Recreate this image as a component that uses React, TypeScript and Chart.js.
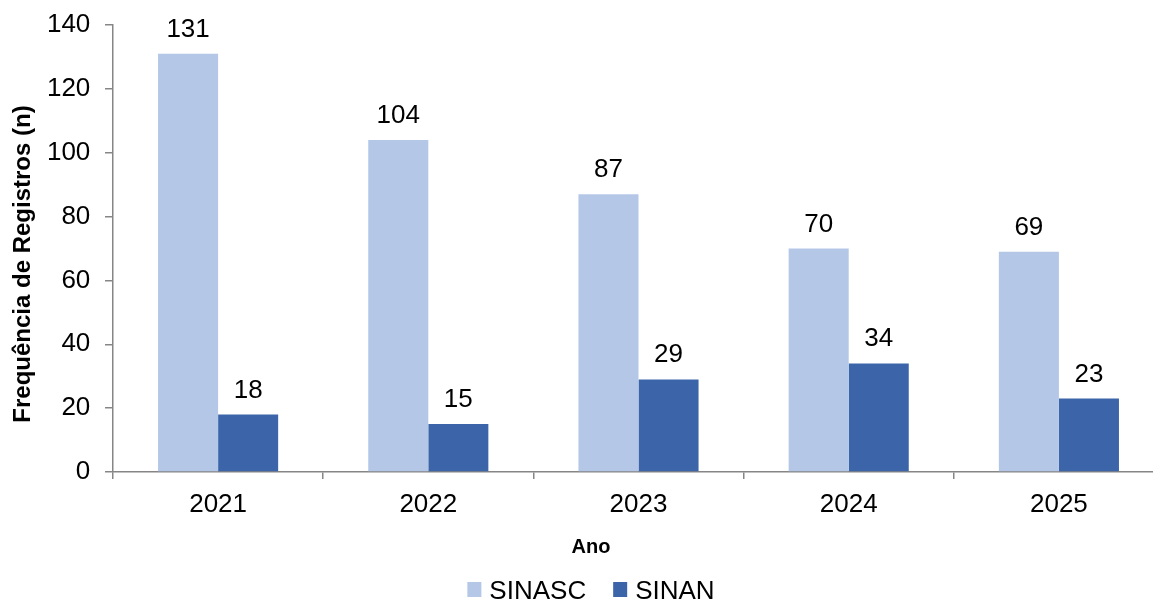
import React, { useEffect, useRef } from "react";
import { Chart, registerables } from "chart.js";

Chart.register(...registerables);

const years = ["2021", "2022", "2023", "2024", "2025"];
const sinasc = [131, 104, 87, 70, 69];
const sinan = [18, 15, 29, 34, 23];
const seriesNames = ["SINASC", "SINAN"];
const seriesColors = ["#B4C7E7", "#3C64A9"];
const yTitle = "Frequência de Registros (n)";
const xTitle = "Ano";

const FONT = "'Liberation Sans', Arial, Helvetica, sans-serif";
const CANVAS_W = 1164;
const CANVAS_H = 601;

const dataLabels = {
  id: "dataLabels",
  afterDatasetsDraw(chart: any) {
    const ctx = chart.ctx;
    ctx.save();
    ctx.font = `26px ${FONT}`;
    ctx.fillStyle = "#000";
    ctx.textAlign = "center";
    ctx.textBaseline = "alphabetic";
    chart.data.datasets.forEach((ds: any, i: number) => {
      const meta = chart.getDatasetMeta(i);
      meta.data.forEach((bar: any, j: number) => {
        ctx.fillText(String(ds.data[j]), bar.x, bar.y - 17);
      });
    });
    ctx.restore();
  },
};

const titlesAndLegend = {
  id: "titlesAndLegend",
  afterDraw(chart: any) {
    const ctx = chart.ctx;
    const centerX = 591;
    ctx.save();
    // y axis title
    ctx.save();
    ctx.translate(23, 264);
    ctx.rotate(-Math.PI / 2);
    ctx.font = `bold 24px ${FONT}`;
    ctx.fillStyle = "#000";
    ctx.textAlign = "center";
    ctx.textBaseline = "middle";
    ctx.fillText(yTitle, 0, 0);
    ctx.restore();
    // x axis title
    ctx.font = `bold 20px ${FONT}`;
    ctx.fillStyle = "#000";
    ctx.textAlign = "center";
    ctx.textBaseline = "alphabetic";
    ctx.fillText(xTitle, centerX, 553);
    // legend
    ctx.font = `26px ${FONT}`;
    ctx.textAlign = "left";
    const boxW = 14;
    const boxH = 15;
    const gapBox = 8;
    const gapItem = 27;
    const widths = chart.data.datasets.map((ds: any) => ctx.measureText(ds.label).width);
    let total = 0;
    widths.forEach((w: number, i: number) => {
      total += boxW + gapBox + w + (i < widths.length - 1 ? gapItem : 0);
    });
    let x = centerX - total / 2;
    chart.data.datasets.forEach((ds: any, i: number) => {
      ctx.fillStyle = ds.backgroundColor;
      ctx.fillRect(x, 582, boxW, boxH);
      x += boxW + gapBox;
      ctx.fillStyle = "#000";
      ctx.fillText(ds.label, x, 598.5);
      x += widths[i] + gapItem;
    });
    ctx.restore();
  },
};

export default function App() {
  const canvasRef = useRef<HTMLCanvasElement | null>(null);

  useEffect(() => {
    if (!canvasRef.current) return;
    Chart.defaults.font.family = FONT;
    Chart.defaults.color = "#000";
    const chart = new Chart(canvasRef.current, {
      type: "bar",
      data: {
        labels: years,
        datasets: [
          {
            label: seriesNames[0],
            data: sinasc,
            backgroundColor: seriesColors[0],
            borderWidth: 0,
          },
          {
            label: seriesNames[1],
            data: sinan,
            backgroundColor: seriesColors[1],
            borderWidth: 0,
          },
        ],
      },
      options: {
        responsive: false,
        maintainAspectRatio: false,
        animation: false,
        devicePixelRatio: 1,
        layout: { padding: { top: 25, right: 0, bottom: 0, left: 0 } },
        datasets: {
          bar: { categoryPercentage: 120 / 210, barPercentage: 1 },
        },
        plugins: {
          legend: { display: false },
          tooltip: { enabled: false },
          title: { display: false },
        },
        scales: {
          x: {
            grid: {
              drawOnChartArea: false,
              drawTicks: true,
              tickLength: 7,
              color: "#868686",
              lineWidth: 1.5,
              offset: true,
            },
            border: { display: true, color: "#868686", width: 1.5 },
            ticks: { font: { size: 26 }, color: "#000", padding: 10 },
            afterFit: (scale: any) => {
              scale.height = 129;
              scale.paddingLeft = 0;
              scale.paddingRight = 0;
            },
          },
          y: {
            min: 0,
            max: 140,
            grid: {
              drawOnChartArea: false,
              drawTicks: true,
              tickLength: 8,
              color: "#868686",
              lineWidth: 1.5,
            },
            border: { display: true, color: "#868686", width: 1.5 },
            ticks: { stepSize: 20, font: { size: 26 }, color: "#000", padding: 14.7 },
            afterFit: (scale: any) => {
              scale.width = 113;
              scale.paddingTop = 0;
              scale.paddingBottom = 0;
            },
          },
        },
      },
      plugins: [dataLabels, titlesAndLegend],
    });
    return () => chart.destroy();
  }, []);

  return (
    <div
      style={{
        position: "fixed",
        left: 0,
        top: 0,
        width: 1153,
        height: 601,
        overflow: "hidden",
        background: "#fff",
      }}
    >
      <canvas
        ref={canvasRef}
        width={CANVAS_W}
        height={CANVAS_H}
        style={{ display: "block", width: CANVAS_W, height: CANVAS_H }}
      />
    </div>
  );
}
